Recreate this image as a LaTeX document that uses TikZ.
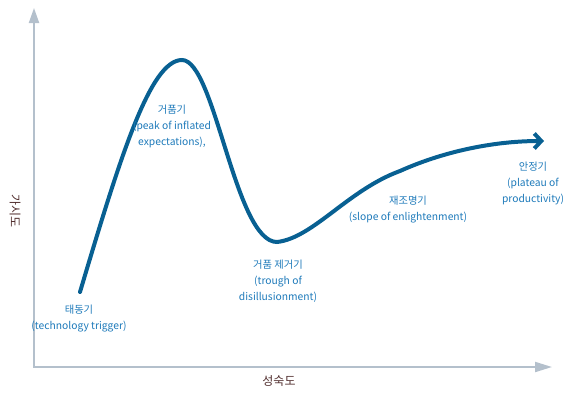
\documentclass[tikz,border=0pt]{standalone}
\usepackage{fontspec}
\setmainfont{Noto Sans CJK KR}
\usetikzlibrary{arrows.meta, positioning}

\definecolor{axisgray}{RGB}{180,192,204}
\definecolor{curveblue}{RGB}{8,96,146}
\definecolor{textblue}{RGB}{30,122,186}
\definecolor{labeldark}{RGB}{80,45,45}

\begin{document}
\begin{tikzpicture}[x=1pt, y=-1pt]
        \tikzstyle{phase} = [text=textblue, align=center, inner sep=0pt, font=\fontsize{10.3}{16}\selectfont]
        \tikzstyle{axislabel} = [text=labeldark, inner sep=0pt, font=\fontsize{12}{14}\selectfont]
        \useasboundingbox (0,0) rectangle (569,399);

        % Achsen
        \coordinate (origin) at (34,367);
        \coordinate (ytip) at (34,8);
        \coordinate (xtip) at (552,367);
        \draw [axisgray, line width=2pt, {Triangle[length=15pt, width=10pt]}-{Triangle[length=17pt, width=10pt]}] (ytip) -- (origin) -- (xtip);
        \node [axislabel, rotate=-90] (yname) at (15,211) {가시도};
        \node [axislabel] (xname) at (279,381) {성숙도};

        % Kurve
        \coordinate (trigger) at (80,292);
        \coordinate (peak) at (182,60);
        \coordinate (trough) at (277,242);
        \coordinate (slope) at (400,171);
        \coordinate (plateau) at (544,141);
        \draw [curveblue, line width=4pt, line cap=round, -{Straight Barb[length=7pt, width=15pt]}]
            (trigger) .. controls (120,158) and (150,60) .. (peak)
            .. controls (215,60) and (235,242) .. (trough)
            .. controls (313,238) and (348,190) .. (slope)
            .. controls (440,153) and (490,141) .. (plateau);

        % Phasen
        \node [phase] (triggertext) at (79,319) {태동기\\(technology trigger)};
        \node [phase] (peaktext) at (172,126) {거품기\\(peak of inflated\\expectations),};
        \node [phase] (troughtext) at (278,281) {거품 제거기\\(trough of\\disillusionment)};
        \node [phase] (slopetext) at (408,210) {재조명기\\(slope of enlightenment)};
        \node [phase] (plateautext) at (533,183) {안정기\\(plateau of\\productivity)};

\end{tikzpicture}
\end{document}
